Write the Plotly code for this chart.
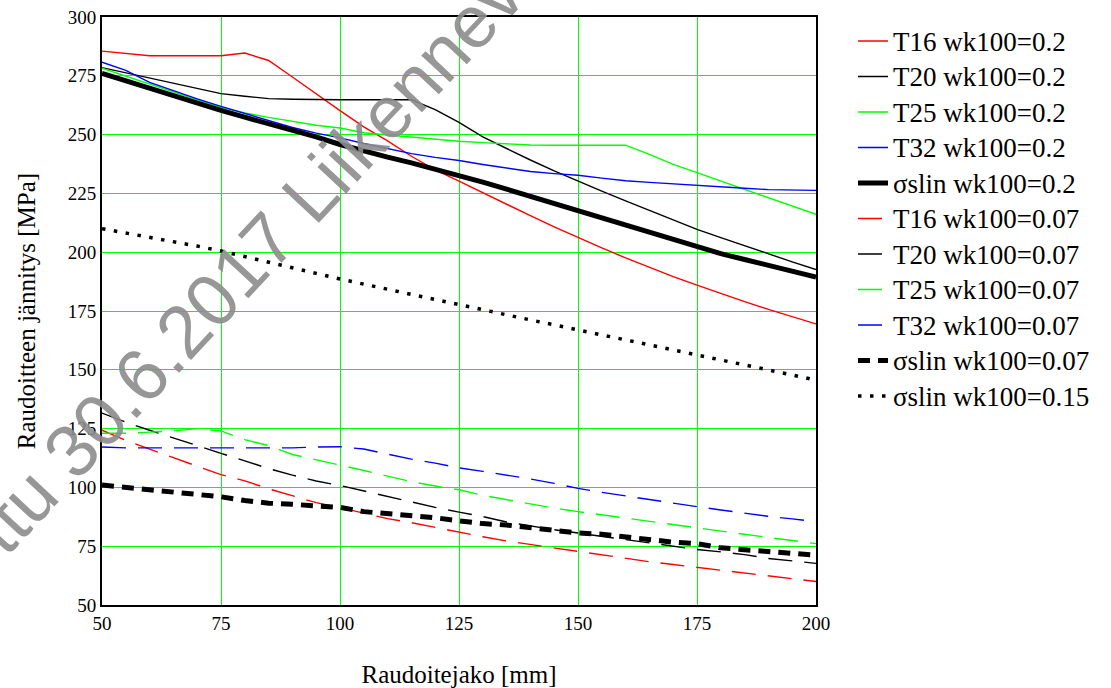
import plotly.graph_objects as go

# Raudoitejako [mm]
spacing = [50, 55, 60, 65, 70, 75, 80, 85, 90, 95, 100, 105, 110, 115, 120, 125,
           130, 135, 140, 145, 150, 155, 160, 165, 170, 175, 180, 185, 190, 195, 200]

# wk100 = 0.2
T16_02 = [285.5, 284.5, 283.5, 283.5, 283.5, 283.5, 284.7, 281.5, 274.5, 267.2, 260.2, 253.3, 247.3, 240.8, 235.0, 230.2,
          225.2, 220.3, 215.5, 210.8, 206.2, 201.8, 197.6, 193.5, 189.6, 186.0, 182.4, 179.0, 175.7, 172.5, 169.5]
T20_02 = [278.5, 276.3, 274.0, 271.8, 269.5, 267.4, 266.3, 265.3, 265.0, 264.8, 264.8, 264.8, 264.8, 264.8, 260.6, 255.2,
          249.0, 244.0, 239.2, 234.6, 230.2, 226.0, 221.8, 217.7, 213.6, 209.7, 206.2, 202.7, 199.2, 195.9, 192.6]
T25_02 = [278.2, 274.8, 271.5, 268.2, 264.8, 261.6, 259.2, 257.3, 255.5, 254.0, 252.8, 250.8, 249.8, 248.9, 248.0, 247.2,
          246.6, 246.1, 245.6, 245.5, 245.5, 245.5, 245.5, 241.6, 237.3, 233.8, 230.3, 226.8, 223.2, 219.7, 216.1]
T32_02 = [280.8, 277.3, 272.2, 268.6, 265.2, 262.0, 259.0, 256.2, 253.0, 250.6, 248.6, 246.2, 244.0, 241.9, 240.3, 239.0,
          237.3, 235.7, 234.3, 233.4, 232.7, 231.5, 230.4, 229.7, 229.0, 228.4, 227.8, 227.2, 226.6, 226.3, 226.3]
slin_02 = [276.0, 272.8, 269.7, 266.5, 263.4, 260.3, 257.4, 254.7, 252.1, 249.0, 245.8, 243.0, 240.4, 238.0, 235.4, 232.8,
           229.8, 226.8, 223.7, 220.6, 217.5, 214.4, 211.3, 208.2, 205.1, 202.0, 199.4, 196.9, 194.4, 191.9, 189.4]

# wk100 = 0.07
T16_007 = [124.3, 120.0, 116.3, 112.8, 109.0, 105.4, 102.8, 99.4, 96.3, 93.5, 91.4, 89.0, 86.7, 85.0, 83.0, 80.8,
           79.0, 77.2, 75.7, 74.1, 72.8, 71.3, 69.8, 68.4, 67.2, 66.0, 64.8, 63.5, 62.2, 61.1, 60.0]
T20_007 = [131.6, 127.7, 124.3, 121.0, 117.5, 114.5, 111.3, 108.0, 105.2, 102.7, 100.8, 98.5, 96.0, 94.0, 91.5, 89.5,
           87.6, 85.3, 83.6, 82.0, 80.6, 79.2, 77.8, 76.4, 75.2, 73.6, 72.6, 71.4, 69.8, 68.7, 67.7]
T25_007 = [123.0, 123.0, 123.5, 124.0, 125.0, 124.0, 120.3, 117.8, 114.0, 111.8, 109.4, 107.2, 104.8, 102.4, 100.6, 99.0,
           96.6, 94.7, 93.0, 91.2, 89.7, 88.3, 86.8, 85.4, 84.0, 82.6, 81.3, 80.0, 78.7, 77.4, 76.1]
T32_007 = [117.2, 116.8, 116.8, 116.8, 116.8, 116.8, 116.8, 116.8, 116.8, 117.2, 117.3, 116.3, 114.0, 112.0, 110.3, 108.3,
           106.8, 105.3, 103.6, 101.7, 99.6, 97.9, 96.3, 94.8, 93.3, 91.8, 90.4, 89.0, 87.7, 86.6, 85.5]
slin_007 = [101.0, 100.0, 98.7, 98.0, 97.0, 96.0, 94.4, 93.3, 92.8, 92.4, 91.5, 89.7, 89.0, 88.0, 87.1, 85.8,
            84.6, 84.0, 82.7, 81.8, 80.6, 80.1, 79.0, 77.7, 76.7, 76.1, 74.3, 73.5, 72.8, 71.9, 71.2]

# wk100 = 0.15
slin_015 = [210.0, 208.2, 206.4, 204.5, 202.6, 200.5, 198.2, 195.8, 193.4, 191.0, 188.6, 186.4, 184.2, 181.9, 179.7, 177.5,
            175.4, 173.3, 171.2, 169.1, 167.0, 164.9, 162.8, 160.6, 158.5, 156.4, 154.2, 152.1, 149.9, 147.8, 145.6]

x_ticks = [50, 75, 100, 125, 150, 175, 200]
y_ticks = [50, 75, 100, 125, 150, 175, 200, 225, 250, 275, 300]

series = [
    ("T16 wk100=0.2", T16_02, "#ff0000", 1.4, "solid"),
    ("T20 wk100=0.2", T20_02, "#000000", 1.4, "solid"),
    ("T25 wk100=0.2", T25_02, "#00ff00", 1.4, "solid"),
    ("T32 wk100=0.2", T32_02, "#0000ff", 1.4, "solid"),
    ("σslin wk100=0.2", slin_02, "#000000", 5, "solid"),
    ("T16 wk100=0.07", T16_007, "#ff0000", 1.4, "24px,12px"),
    ("T20 wk100=0.07", T20_007, "#000000", 1.4, "24px,12px"),
    ("T25 wk100=0.07", T25_007, "#00ff00", 1.4, "24px,12px"),
    ("T32 wk100=0.07", T32_007, "#0000ff", 1.4, "24px,12px"),
    ("σslin wk100=0.07", slin_007, "#000000", 5, "12px,8px"),
    ("σslin wk100=0.15", slin_015, "#000000", 3.5, "3.5px,8.5px"),
]

fig = go.Figure()
for name, vals, color, width, dash in series:
    fig.add_trace(go.Scatter(x=spacing, y=vals, mode="lines",
                             name='<span style="font-size:27px">' + name + '</span>',
                             line=dict(color=color, width=width, dash=dash)))

serif = "Liberation Serif"
fig.update_layout(
    width=1111, height=688,
    margin=dict(l=102, r=295, t=17, b=83, autoexpand=False),
    paper_bgcolor="white", plot_bgcolor="white",
    font=dict(family=serif, color="black", size=19),
    showlegend=True,
    legend=dict(x=1.0518, xanchor="left", y=0.998, yanchor="top",
                maxheight=660,
                font=dict(family=serif, size=25, color="black"),
                bgcolor="rgba(0,0,0,0)", borderwidth=0,
                tracegroupgap=0),
    xaxis=dict(range=[50, 200], tickvals=x_ticks, ticktext=[str(v) for v in x_ticks],
               showgrid=True, gridcolor="#00ff00", gridwidth=1, zeroline=False,
               showline=True, linecolor="black", linewidth=2, mirror=True, ticks="",
               automargin=False,
               tickfont=dict(family=serif, size=19),
               title=dict(text="Raudoitejako [mm]", font=dict(family=serif, size=25), standoff=35)),
    yaxis=dict(range=[50, 300], tickvals=y_ticks, ticktext=[str(v) for v in y_ticks],
               showgrid=True, gridcolor="#00ff00", gridwidth=1, zeroline=False,
               showline=True, linecolor="black", linewidth=2, mirror=True, ticks="",
               automargin=False,
               tickfont=dict(family=serif, size=19),
               title=dict(text="Raudoitteen jännitys [MPa]", font=dict(family=serif, size=25), standoff=25)),
)

fig.add_annotation(
    text="Kumottu 30.6.2017 Liikennevirasto",
    xref="paper", yref="paper", x=0.199, y=0.578,
    xanchor="center", yanchor="middle", showarrow=False, textangle=-47,
    font=dict(family="Liberation Sans", size=74, color="rgba(140,140,140,0.9)"),
)

fig.write_html("out.html")
